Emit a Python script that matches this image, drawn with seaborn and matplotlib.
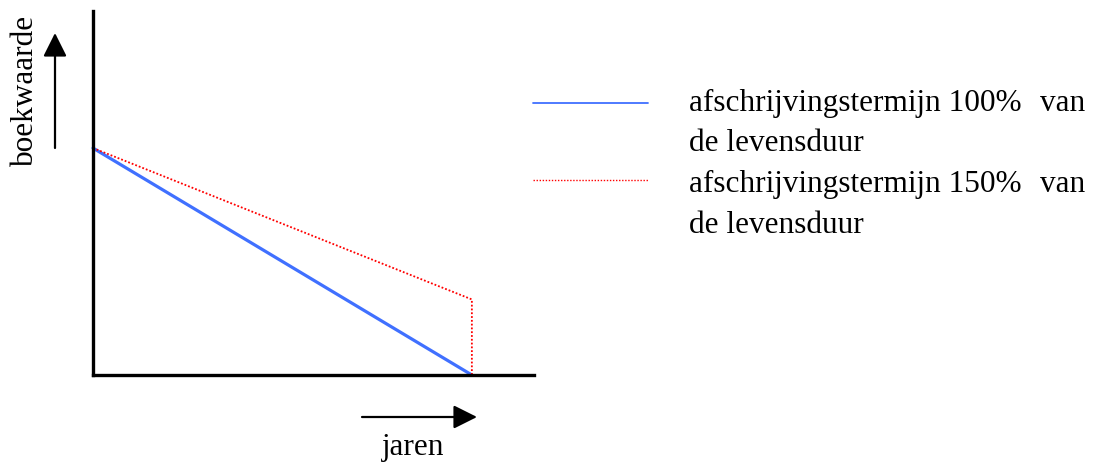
import matplotlib
matplotlib.use("Agg")
import matplotlib.pyplot as plt
from matplotlib.lines import Line2D
import seaborn as sns
import pandas as pd

# gegevens (boekwaarde als % van aanschafwaarde, jaren)
jaren_100 = [0, 10]
boekwaarde_100 = [100, 0]
jaren_150 = [0, 10, 10]
boekwaarde_150 = [100, 33.3, 0]

labels = [
    ["afschrijvingstermijn 100% van", "de levensduur"],
    ["afschrijvingstermijn 150% van", "de levensduur"],
]
kleur_100 = "#4070ff"
kleur_150 = "#ff0000"

sns.set_theme(style="white")
plt.rcParams["font.family"] = ["Liberation Serif", "DejaVu Serif"]
plt.rcParams["text.color"] = "black"
FS = 22.5

df100 = pd.DataFrame({"jaren": jaren_100, "boekwaarde": boekwaarde_100})
df150 = pd.DataFrame({"jaren": jaren_150, "boekwaarde": boekwaarde_150})

fig = plt.figure(figsize=(10.95, 4.62), dpi=100)
ax = fig.add_axes([93 / 1095, 87 / 462, 441 / 1095, 364 / 462])

sns.lineplot(data=df100, x="jaren", y="boekwaarde", ax=ax, color=kleur_100,
             linewidth=2.3, estimator=None, sort=False)
sns.lineplot(data=df150, x="jaren", y="boekwaarde", ax=ax, color=kleur_150,
             linewidth=1.3, linestyle=(0, (1, 1.1)), estimator=None, sort=False)

ax.set_xlim(0, 11.64)
ax.set_ylim(0, 160.4)
ax.set_xticks([])
ax.set_yticks([])
ax.set_xlabel("")
ax.set_ylabel("")
for side in ["top", "right"]:
    ax.spines[side].set_visible(False)
for side in ["left", "bottom"]:
    ax.spines[side].set_color("black")
    ax.spines[side].set_linewidth(2.4)
for l in ax.lines:
    l.set_clip_on(False)

pijl = dict(arrowstyle="-|>,head_length=0.72,head_width=0.36",
            mutation_scale=20, lw=1.6, color="black", shrinkA=0, shrinkB=0)

# aslabels met pijlen
fig.text(33 / 1095, 1 - 90 / 462, "boekwaarde", rotation=90, rotation_mode="anchor",
         ha="center", va="baseline", fontsize=FS)
ax.annotate("", xy=(55, 462 - 33), xytext=(55, 462 - 148), xycoords="figure pixels",
            textcoords="figure pixels", arrowprops=pijl)
fig.text(413 / 1095, 1 - 455 / 462, "jaren", ha="center", va="baseline", fontsize=FS)
ax.annotate("", xy=(477, 462 - 417), xytext=(362, 462 - 417), xycoords="figure pixels",
            textcoords="figure pixels", arrowprops=pijl)

# legenda (uitgevulde tekst zoals in het origineel)
fig.add_artist(Line2D([533 / 1095, 648 / 1095], [1 - 103 / 462, 1 - 103 / 462],
                      color=kleur_100, linewidth=1.3))
fig.add_artist(Line2D([533 / 1095, 648 / 1095], [1 - 180 / 462, 1 - 180 / 462],
                      color=kleur_150, linewidth=1.0, linestyle=(0, (1, 1.2))))
baselines = [[111, 151], [192, 233]]
for lab, bl in zip(labels, baselines):
    for i, (tekst, y) in enumerate(zip(lab, bl)):
        if i < len(lab) - 1:
            links, rechts = tekst.rsplit(" ", 1)
            fig.text(689 / 1095, 1 - y / 462, links, ha="left", va="baseline", fontsize=FS)
            fig.text(1085 / 1095, 1 - y / 462, rechts, ha="right", va="baseline", fontsize=FS)
        else:
            fig.text(689 / 1095, 1 - y / 462, tekst, ha="left", va="baseline", fontsize=FS)

fig.savefig("out.png", dpi=100)
